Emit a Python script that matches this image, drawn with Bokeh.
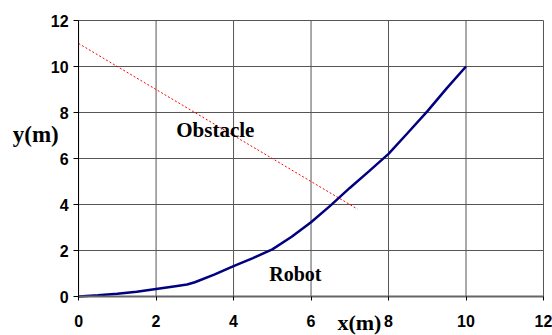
from bokeh.plotting import figure
from bokeh.models import Range1d, FixedTicker, Label
from bokeh.embed import file_html
from bokeh.resources import INLINE

# data
robot_x = [0, 0.5, 1, 1.5, 2, 2.5, 2.8, 3, 3.5, 4, 4.5, 5, 5.5, 6, 6.5, 7, 7.5, 8, 8.5, 9, 9.5, 10]
robot_y = [0, 0.05, 0.12, 0.21, 0.33, 0.45, 0.52, 0.62, 0.95, 1.32, 1.67, 2.05, 2.6, 3.23, 3.95, 4.72, 5.45, 6.2, 7.12, 8.05, 9.05, 10]
obstacle_x = [0, 7.2]
obstacle_y = [11, 3.8]
ticks = [0, 2, 4, 6, 8, 10, 12]

p = figure(width=552, height=335, output_backend="svg", toolbar_location=None,
           x_range=Range1d(-78 / 38.7, 12 + 9 / 38.7),
           y_range=Range1d(-39 / 23.0, 12 + 20 / 23.0),
           min_border=0)
p.background_fill_color = "white"
p.border_fill_color = "white"
p.outline_line_color = None
p.grid.visible = False

# grid lines limited to the 0..12 plot area
lo = [ticks[0]] * len(ticks)
hi = [ticks[-1]] * len(ticks)
p.segment(x0=ticks, y0=lo, x1=ticks, y1=hi, line_color="#555555", line_width=1)
p.segment(x0=lo, y0=ticks, x1=hi, y1=ticks, line_color="#555555", line_width=1)

for ax in (p.xaxis[0], p.yaxis[0]):
    ax.ticker = FixedTicker(ticks=ticks)
    ax.fixed_location = 0
    ax.bounds = (0, 12)
    ax.major_label_text_font = "Liberation Sans"
    ax.major_label_text_font_style = "bold"
    ax.major_label_text_font_size = "16px"
    ax.major_label_text_color = "black"
    ax.minor_tick_line_color = None
    ax.major_tick_in = 0

p.xaxis.axis_line_color = "#666666"
p.xaxis.axis_line_width = 2
p.xaxis.major_tick_out = 4
p.xaxis.major_tick_line_color = "black"
p.xaxis.major_label_standoff = 14
p.yaxis.axis_line_color = "black"
p.yaxis.axis_line_width = 1
p.yaxis.major_tick_out = 5
p.yaxis.major_tick_line_color = "black"
p.yaxis.major_label_standoff = 5

p.line(obstacle_x, obstacle_y, line_color="red", line_width=1, line_dash="2 2")
p.line(robot_x, robot_y, line_color="#000080", line_width=2.5)

def lab(x, y, t, size):
    p.add_layout(Label(x=x, y=y, text=t, text_font="Liberation Serif",
                       text_font_style="bold", text_font_size=size,
                       text_color="black", text_align="left",
                       text_baseline="alphabetic"))

lab(2.52, 7.25, "Obstacle", "21px")
lab(4.92, 1.0, "Robot", "20px")
lab(-1.7, 7.04, "y(m)", "23px")
lab(6.68, -1.12, "x(m)", "22px")

open("out.html", "w").write(file_html(p, INLINE))
